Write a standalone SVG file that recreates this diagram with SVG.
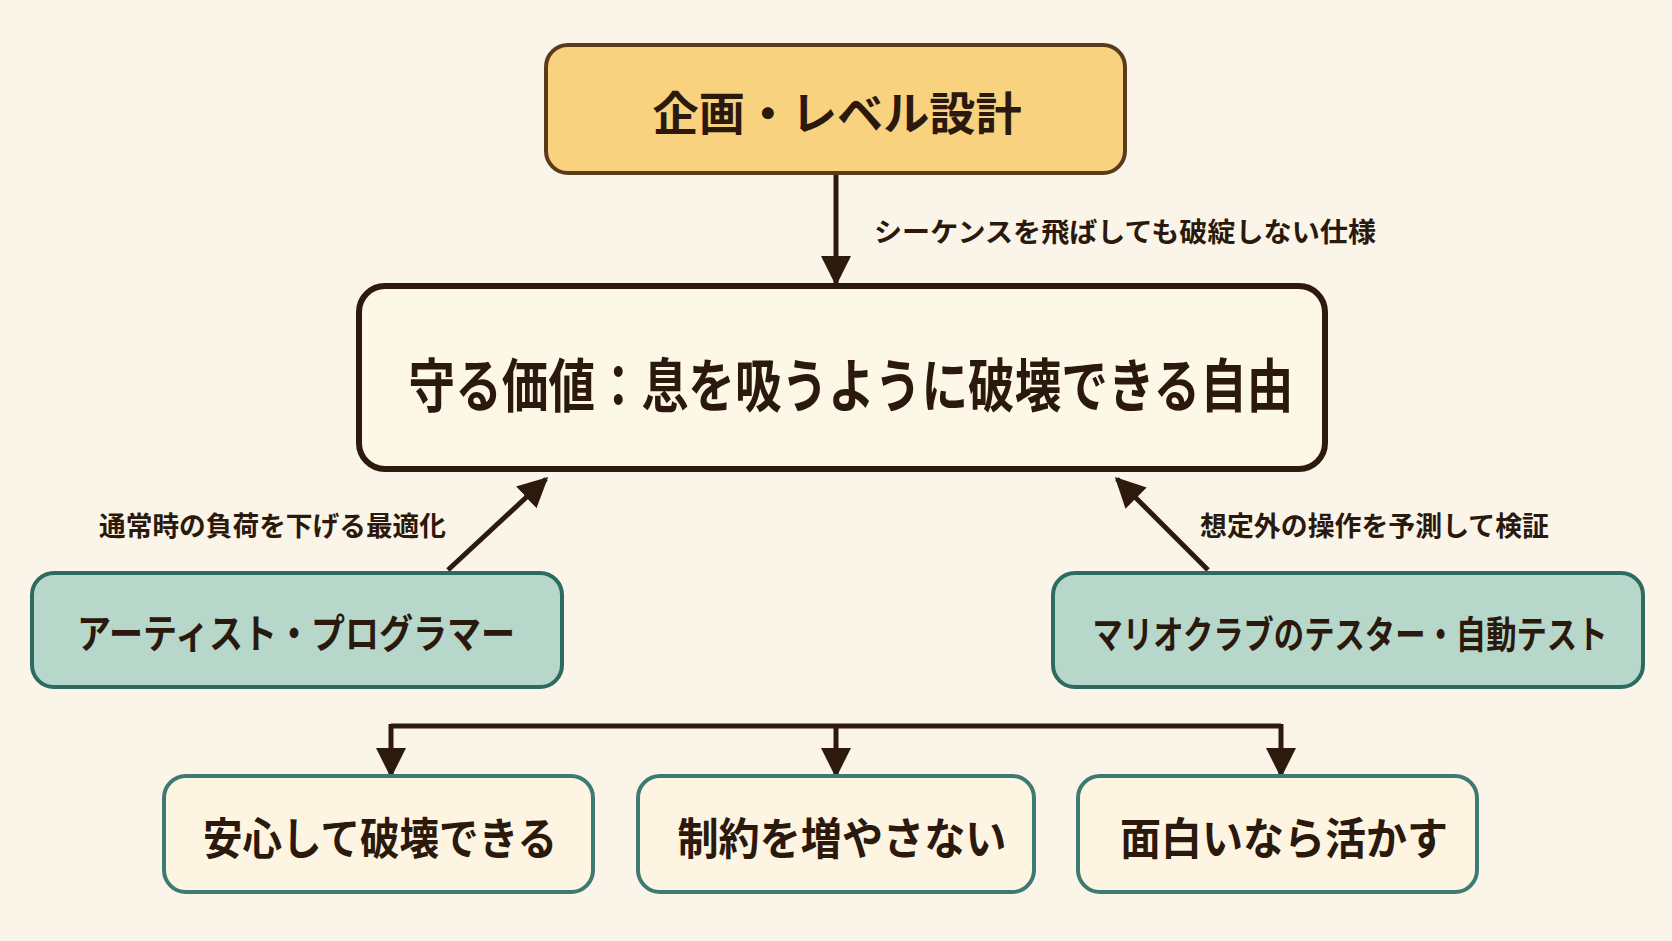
<svg xmlns="http://www.w3.org/2000/svg" width="1672" height="941" viewBox="0 0 1672 941">
<defs>
<marker id="ahb" viewBox="0 0 10 10" refX="9" refY="5" markerWidth="30" markerHeight="30" orient="auto" markerUnits="userSpaceOnUse">
<path d="M0,0 L10,5 L0,10 Z" fill="#2e1a0c"/>
</marker>
</defs>
<style>
.t{font-family:"Noto Sans CJK JP","Noto Sans CJK SC",sans-serif;font-weight:700;fill:#2a190c;text-anchor:middle;dominant-baseline:central}
.lbl{font-family:"Noto Sans CJK JP","Noto Sans CJK SC",sans-serif;font-weight:700;fill:#2a190c;font-size:27px;dominant-baseline:central}
.conn{stroke:#2e1a0c;stroke-width:5;fill:none}
.green{fill:#b6d7c9;stroke:#2d6a60;stroke-width:4}
.cream{fill:#fdf5e2;stroke:#3e7a71;stroke-width:4}
</style>
<rect width="1672" height="941" fill="#faf5e8"/>
<g id="connectors">
<line class="conn" x1="836" y1="173" x2="836" y2="283" marker-end="url(#ahb)"/>
<line class="conn" x1="448" y1="570" x2="546" y2="479" marker-end="url(#ahb)"/>
<line class="conn" x1="1208" y1="570" x2="1117" y2="479" marker-end="url(#ahb)"/>
<path class="conn" d="M391,726 H1281"/>
<line class="conn" x1="391" y1="724" x2="391" y2="775" marker-end="url(#ahb)"/>
<line class="conn" x1="836" y1="724" x2="836" y2="775" marker-end="url(#ahb)"/>
<line class="conn" x1="1281" y1="724" x2="1281" y2="775" marker-end="url(#ahb)"/>
<text class="lbl" x="874" y="230" textLength="502" lengthAdjust="spacingAndGlyphs">シーケンスを飛ばしても破綻しない仕様</text>
<text class="lbl" x="99" y="524" textLength="347" lengthAdjust="spacingAndGlyphs">通常時の負荷を下げる最適化</text>
<text class="lbl" x="1200" y="524" textLength="349" lengthAdjust="spacingAndGlyphs">想定外の操作を予測して検証</text>
</g>
<g id="n-plan">
<rect x="546" y="45" width="579" height="128" rx="22" fill="#f8d27f" stroke="#5a3a1a" stroke-width="4"/>
<text class="t" x="837" y="110" font-size="46" textLength="369" lengthAdjust="spacingAndGlyphs">企画・レベル設計</text>
</g>
<g id="n-value">
<rect x="359" y="286" width="966" height="183" rx="26" fill="#fdf7e8" stroke="#2e1a0c" stroke-width="6"/>
<text class="t" x="851" y="382" font-size="58" textLength="885" lengthAdjust="spacingAndGlyphs">守る価値：息を吸うように破壊できる自由</text>
</g>
<g id="n-artist">
<rect class="green" x="32" y="573" width="530" height="114" rx="22"/>
<text class="t" x="296" y="631" font-size="40" textLength="438" lengthAdjust="spacingAndGlyphs">アーティスト・プログラマー</text>
</g>
<g id="n-tester">
<rect class="green" x="1053" y="573" width="590" height="114" rx="22"/>
<text class="t" x="1350" y="631" font-size="38" textLength="515" lengthAdjust="spacingAndGlyphs">マリオクラブのテスター・自動テスト</text>
</g>
<g id="n-safe">
<rect class="cream" x="164" y="776" width="429" height="116" rx="22"/>
<text class="t" x="380" y="836" font-size="44" textLength="354" lengthAdjust="spacingAndGlyphs">安心して破壊できる</text>
</g>
<g id="n-limit">
<rect class="cream" x="638" y="776" width="396" height="116" rx="22"/>
<text class="t" x="842" y="836" font-size="44" textLength="329" lengthAdjust="spacingAndGlyphs">制約を増やさない</text>
</g>
<g id="n-fun">
<rect class="cream" x="1078" y="776" width="399" height="116" rx="22"/>
<text class="t" x="1284" y="836" font-size="44" textLength="328" lengthAdjust="spacingAndGlyphs">面白いなら活かす</text>
</g>
</svg>
